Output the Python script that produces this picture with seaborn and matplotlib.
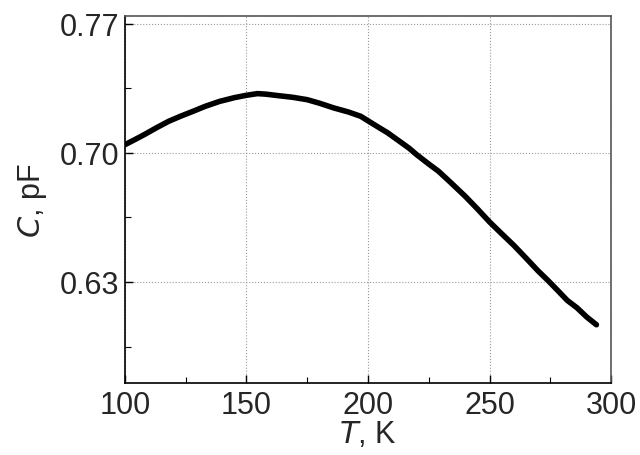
import pandas as pd
import matplotlib
matplotlib.use('Agg')
import matplotlib.pyplot as plt
import seaborn as sns
from matplotlib.ticker import MultipleLocator

# Capacitance vs temperature
temperature = [100, 104, 108, 113, 118, 123, 128, 133, 139, 145, 150, 154.5, 158,
               163, 169, 175, 180, 186, 192, 197, 203, 208, 213, 217, 220, 225,
               229, 234, 240, 245, 250, 255, 260, 265, 270, 274, 278, 282, 286,
               290, 294]
capacitance = [0.7045, 0.7072, 0.7100, 0.7137, 0.7172, 0.7200, 0.7226, 0.7253,
               0.7280, 0.7300, 0.7313, 0.7322, 0.7319, 0.7311, 0.7302, 0.7289,
               0.7270, 0.7244, 0.7222, 0.7199, 0.7150, 0.7110, 0.7063, 0.7025,
               0.6991, 0.6940, 0.6901, 0.6840, 0.6765, 0.6697, 0.6626, 0.6562,
               0.6499, 0.6430, 0.6360, 0.6309, 0.6255, 0.6200, 0.6160, 0.6110,
               0.6068]

df = pd.DataFrame({'T': temperature, 'C': capacitance})

sns.set_style('ticks')
plt.rcParams['font.family'] = ['Liberation Sans', 'DejaVu Sans']

fig = plt.figure(figsize=(6.4, 4.56), dpi=100)
ax = fig.add_axes([0.1953, 0.1579, 0.7594, 0.8048])

sns.lineplot(data=df, x='T', y='C', ax=ax, color='black', linewidth=4,
             solid_capstyle='round')

ax.set_xlim(100, 300)
ax.set_ylim(0.5752, 0.7743)
ax.xaxis.set_major_locator(MultipleLocator(50))
ax.xaxis.set_minor_locator(MultipleLocator(25))
ax.set_yticks([0.63, 0.70, 0.77])
ax.set_yticklabels(['0.63', '0.70', '0.77'])
ax.yaxis.set_minor_locator(MultipleLocator(0.035))

ax.grid(True, which='major', linestyle=':', color='#999999', linewidth=0.8)
ax.tick_params(which='both', direction='in', labelsize=22, color='black')
ax.tick_params(which='major', length=6, width=1)
ax.tick_params(which='minor', length=4, width=0.8)
ax.tick_params(axis='x', pad=5)
ax.tick_params(axis='y', pad=4)

for side in ['left', 'bottom']:
    ax.spines[side].set_color('black')
    ax.spines[side].set_linewidth(1.2)
for side in ['top', 'right']:
    ax.spines[side].set_color('#555555')
    ax.spines[side].set_linewidth(1.2)

ax.set_xlabel('$\\it{T}$, K', fontsize=22, labelpad=-1)
ax.set_ylabel('$\\it{C}$, pF', fontsize=22, labelpad=8)

fig.savefig('out.png', dpi=100)
